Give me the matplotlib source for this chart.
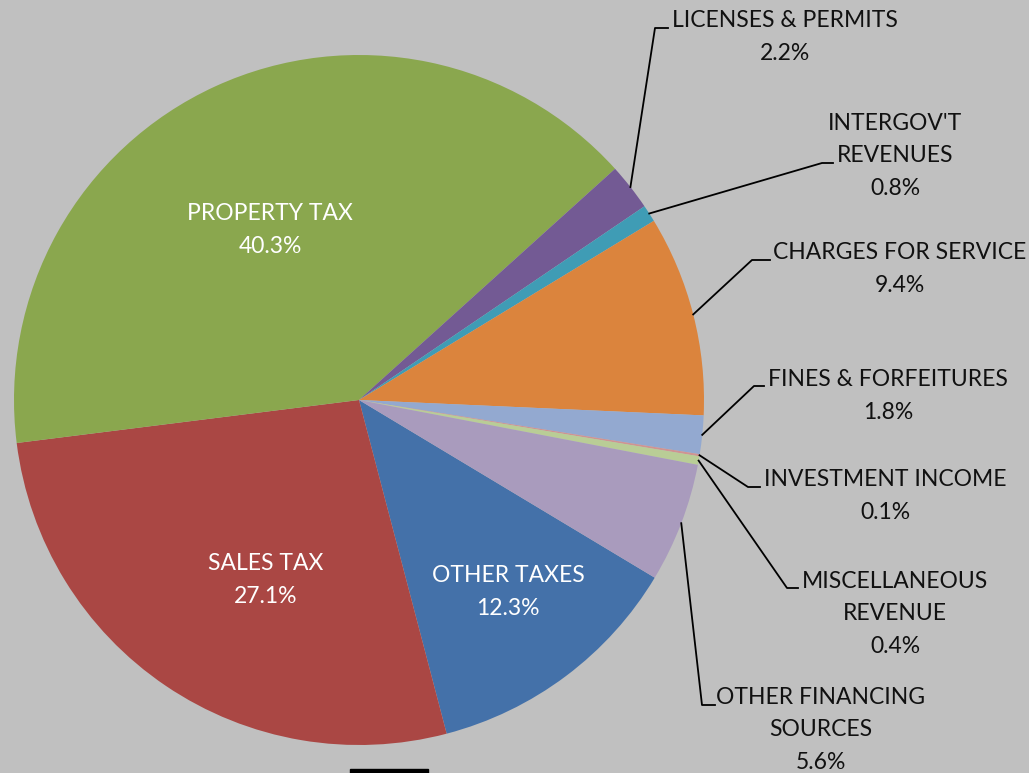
import numpy as np
import matplotlib.pyplot as plt

plt.rcParams['font.family'] = ['Lato', 'DejaVu Sans']

# Revenue shares (%), in Excel series order (drawn clockwise)
names = ['OTHER TAXES', 'SALES TAX', 'PROPERTY TAX', 'LICENSES & PERMITS',
         "INTERGOV'T\nREVENUES", 'CHARGES FOR SERVICE', 'FINES & FORFEITURES',
         'INVESTMENT INCOME', 'MISCELLANEOUS\nREVENUE',
         'OTHER FINANCING\nSOURCES']
shares = [12.3, 27.1, 40.3, 2.2, 0.8, 9.4, 1.8, 0.1, 0.4, 5.6]
colors = ['#4471A9', '#AA4744', '#8AA74E', '#735A94', '#3F9CB5',
          '#DB843D', '#93A9D0', '#D09392', '#B9CD96', '#A99BBD']

# label layout (pixel coords, y from top): text centre, elbow, end of leader
inside = {0: (508, 592), 1: (266, 580), 2: (270, 230)}
outside = {
    3: ((785, 37), (655, 28), (668, 28)),
    4: ((895, 156), (822, 163), (833, 163)),
    5: ((900, 269), (752, 260), (770, 260)),
    6: ((888, 396), (754, 386), (764, 386)),
    7: ((885, 496), (748, 487), (760, 487)),
    8: ((895, 614), (787, 588), (798, 588)),
    9: ((821, 730), (702, 705), (715, 705)),
}

W, H = 1029, 773
cx, cy, r = 359, 400, 345
start = -31

fig = plt.figure(figsize=(W / 100, H / 100), dpi=100)
fig.patch.set_facecolor('#C0C0C0')
ax = fig.add_axes([0, 0, 1, 1])

wedges, _ = ax.pie(shares, colors=colors, startangle=start, counterclock=False,
                   center=(cx, H - cy), radius=r, frame=True,
                   wedgeprops=dict(linewidth=0))
ax.set_xlim(0, W)
ax.set_ylim(0, H)
ax.axis('off')

for i, (x, y) in inside.items():
    ax.text(x, H - y, '%s\n%.1f%%' % (names[i], shares[i]), color='white',
            ha='center', va='center', fontsize=16.5, linespacing=1.68)

for i, ((tx, ty), (ex, ey), (hx, hy)) in outside.items():
    w = wedges[i]
    mid = np.deg2rad((w.theta1 + w.theta2) / 2)
    sx = cx + r * np.cos(mid)
    sy = H - cy + r * np.sin(mid)
    ax.plot([sx, ex, hx], [sy, H - ey, H - hy], color='black', lw=1.3)
    ax.text(tx, H - ty, '%s\n%.1f%%' % (names[i], shares[i]), color='#111111',
            ha='center', va='center', fontsize=16.5, linespacing=1.68)

ax.add_patch(plt.Rectangle((350, 0), 78, 4, color='black'))

fig.savefig('out.png', dpi=100, facecolor=fig.get_facecolor())
